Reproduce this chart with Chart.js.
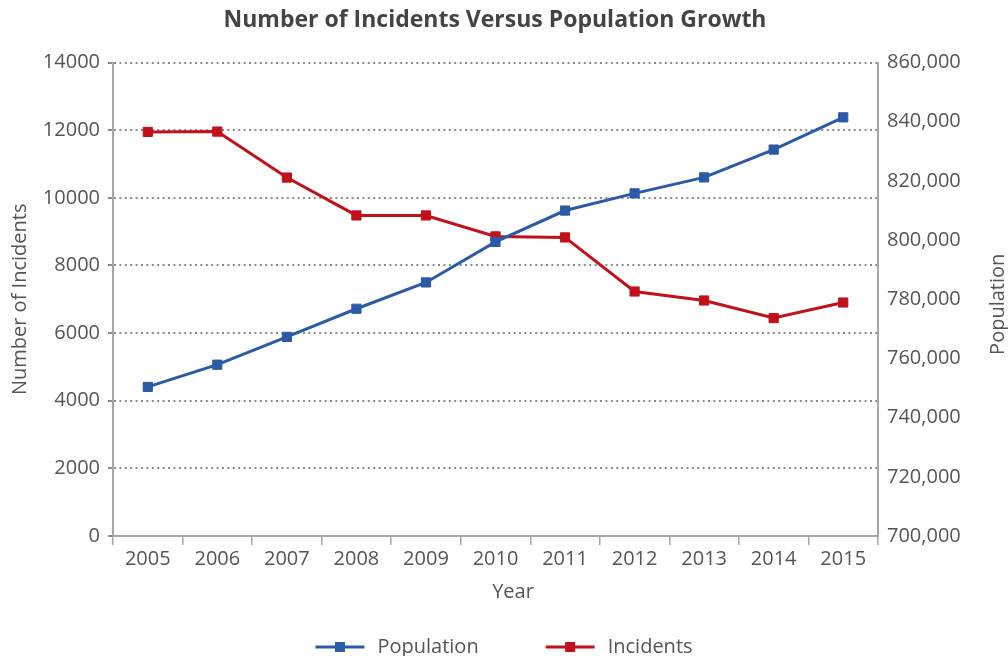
<!DOCTYPE html>
<html><head><meta charset="utf-8">
<script src="https://cdn.jsdelivr.net/npm/chart.js@4"></script>
<style>html,body{margin:0;padding:0;background:#fff;overflow:hidden}</style>
</head><body>
<canvas id="c" width="1008" height="656"></canvas>
<script>
const years = ['2005','2006','2007','2008','2009','2010','2011','2012','2013','2014','2015'];
const population = [750400, 757900, 767300, 776800, 785700, 799400, 810000, 815800, 821200, 830600, 841500];
const incidents = [11950, 11960, 10600, 9480, 9480, 8860, 8830, 7230, 6965, 6445, 6905];
const seriesNames = ['Population', 'Incidents'];
const titleText = 'Number of Incidents Versus Population Growth';

const FONT = "'Open Sans', sans-serif";
const TEXT = '#555555';
const AXIS = '#a6a6a6';
const GRID = '#8a8a8a';
const BLUE = '#2b5aa7';
const RED = '#c1111a';

const extras = {
  id: 'extras',
  afterDraw(chart) {
    const ctx = chart.ctx, a = chart.chartArea;
    ctx.save();
    ctx.fillStyle = TEXT;
    ctx.font = `20px ${FONT}`;
    ctx.textAlign = 'center';
    ctx.textBaseline = 'middle';
    ctx.fillText('Year', 513, 592);
    ctx.save();
    ctx.translate(998, (a.top + a.bottom) / 2 + 5);
    ctx.rotate(-Math.PI / 2);
    ctx.fillText('Population', 0, 0);
    ctx.restore();
    // legend
    const lineW = 49, gap = 13, itemGap = 67, y = 647;
    const ds = chart.data.datasets;
    const widths = ds.map(d => lineW + gap + ctx.measureText(d.label).width);
    const total = widths.reduce((s, w) => s + w, 0) + itemGap * (ds.length - 1);
    let x = chart.width / 2 - total / 2;
    ctx.textAlign = 'left';
    ds.forEach((d, i) => {
      ctx.strokeStyle = d.borderColor;
      ctx.lineWidth = 3;
      ctx.beginPath(); ctx.moveTo(x, y); ctx.lineTo(x + lineW, y); ctx.stroke();
      ctx.fillStyle = d.borderColor;
      ctx.fillRect(x + lineW / 2 - 5, y - 5, 10, 10);
      ctx.fillStyle = TEXT;
      ctx.fillText(d.label, x + lineW + gap, y);
      x += widths[i] + itemGap;
    });
    ctx.restore();
  }
};

new Chart(document.getElementById('c'), {
  type: 'line',
  data: {
    labels: years,
    datasets: [
      { label: seriesNames[0], data: population, yAxisID: 'yR', borderColor: BLUE, backgroundColor: BLUE,
        borderWidth: 3, pointStyle: 'rect', pointRadius: 6.5, pointBorderWidth: 1, tension: 0 },
      { label: seriesNames[1], data: incidents, yAxisID: 'yL', borderColor: RED, backgroundColor: RED,
        borderWidth: 3, pointStyle: 'rect', pointRadius: 6.5, pointBorderWidth: 1, tension: 0 }
    ]
  },
  options: {
    responsive: false,
    animation: false,
    devicePixelRatio: 1,
    layout: { padding: { left: 0, right: 18, top: 0, bottom: 0 } },
    plugins: {
      legend: { display: false },
      tooltip: { enabled: false },
      title: { display: true, text: titleText, color: '#444444',
        font: { family: FONT, size: 23, weight: 'bold' }, padding: { top: 7, bottom: 28 } }
    },
    scales: {
      x: {
        type: 'category',
        offset: true,
        grid: { offset: true, drawOnChartArea: false, drawTicks: true, tickLength: 9, color: AXIS, lineWidth: 1.5 },
        border: { display: true, color: AXIS, width: 2 },
        ticks: { color: TEXT, font: { family: FONT, size: 20 }, padding: 2, maxRotation: 0, autoSkip: false },
        afterFit(s) { s.height = 120; }
      },
      yL: {
        position: 'left',
        min: 0, max: 14000,
        ticks: { stepSize: 2000, color: TEXT, font: { family: FONT, size: 20 }, padding: 8,
          callback: v => String(v) },
        grid: { color: GRID, lineWidth: 2, tickLength: 5, drawTicks: true },
        border: { display: true, color: AXIS, width: 2, dash: [2, 3.4] },
        title: { display: true, text: 'Number of Incidents', color: TEXT, font: { family: FONT, size: 20 }, padding: { top: 8, bottom: 0 } },
        afterFit(s) { s.width = 113; }
      },
      yR: {
        position: 'right',
        min: 700000, max: 860000,
        ticks: { stepSize: 20000, color: TEXT, font: { family: FONT, size: 20 }, padding: 4,
          callback: v => Number(v).toLocaleString('en-US') },
        grid: { drawOnChartArea: false, drawTicks: true, tickLength: 5, color: 'rgba(0,0,0,0)' },
        border: { display: true, color: AXIS, width: 2 },
        afterFit(s) { s.width = 112; }
      }
    }
  },
  plugins: [extras]
});
</script>
</body></html>
